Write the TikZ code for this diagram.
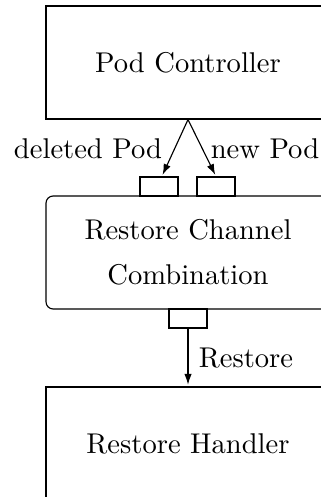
\documentclass[tikz,border=0pt]{standalone}
\usetikzlibrary{arrows.meta}
\begin{document}
\begin{tikzpicture}[x=0.35pt,y=-0.35pt,
  bigbox/.style={draw, minimum width=99.4pt, minimum height=39.55pt, inner sep=0pt},
  roundbox/.style={bigbox, rounded corners=2.5pt, align=center},
  port/.style={draw, minimum width=13.3pt, minimum height=6.65pt, inner sep=0pt},
  conn/.style={-{Latex[length=3.8pt,width=2.6pt]}, line width=0.4pt, shorten >=0.6pt},
  lbl/.style={inner sep=0pt}]
\useasboundingbox (0,0) rectangle (321,497);
\clip (0,0) rectangle (321,497);
\node[bigbox] (pc) at (188,62.5) {Pod Controller};
\node[roundbox] (rc) at (188,252.5) {Restore Channel\\[3.75pt]Combination};
\node[bigbox] (rh) at (188,443.5) {Restore Handler};
\node[port] (lp) at (159,186.5) {};
\node[port] (rp) at (216,186.5) {};
\node[port] (bp) at (188,318.5) {};
\draw[conn] (pc.south) -- ([xshift=1pt]lp.north);
\draw[conn] (pc.south) -- (rp.north);
\draw[conn] (bp.south) -- (rh.north);
\node[lbl] (ld) at (88,149) {deleted Pod};
\node[lbl] (ln) at (265,149) {new Pod};
\node[lbl] (lr) at (246,358) {Restore};
\end{tikzpicture}
\end{document}
